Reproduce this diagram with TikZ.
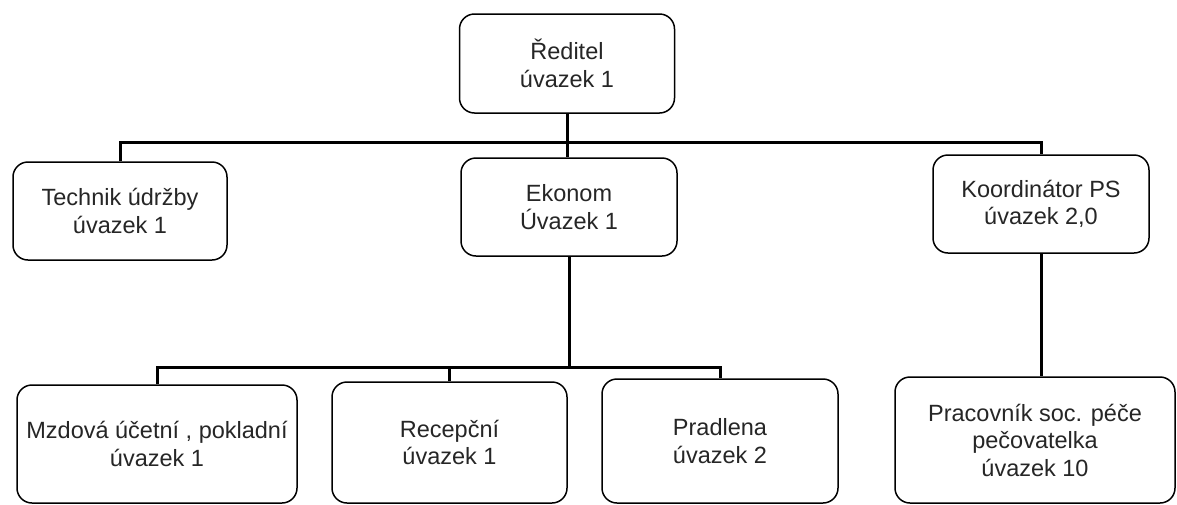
\documentclass[tikz,border=0pt]{standalone}
\usepackage{fontspec}
\setmainfont{Liberation Sans}
\begin{document}
\begin{tikzpicture}[x=1pt,y=-1pt,
  orgbox/.style={draw=black, line width=1.5pt, rounded corners=15pt, fill=white,
    align=center, inner sep=0pt, font=\fontsize{23.5}{27.5}\selectfont, text=black!85},
  link/.style={draw=black, line width=3pt}]
\useasboundingbox (0,0) rectangle (1177,504);
\fill[white] (0,0) rectangle (1177,504);
% boxes
\node[orgbox, minimum width=215pt, minimum height=99pt] (dir) at (567,63.5) {Ředitel\\úvazek 1};
\node[orgbox, minimum width=214pt, minimum height=98pt] (tech) at (120,211) {Technik údržby\\úvazek 1};
\node[orgbox, minimum width=216pt, minimum height=98pt] (ekon) at (569,207) {Ekonom\\Úvazek 1};
\node[orgbox, minimum width=216pt, minimum height=98pt] (koord) at (1041,204) {Koordinátor PS\\úvazek 2,0};
\node[orgbox, minimum width=280pt, minimum height=118pt] (mzd) at (157,444) {Mzdová účetní , pokladní\\úvazek 1};
\node[orgbox, minimum width=235pt, minimum height=121pt] (rec) at (449.5,442.5) {Recepční\\úvazek 1};
\node[orgbox, minimum width=236pt, minimum height=124pt] (pradl) at (720,441) {Pradlena\\úvazek 2};
\node[orgbox, minimum width=280pt, minimum height=126pt] (prac) at (1035,440) {Pracovník soc. péče\\pečovatelka\\úvazek 10};
% connectors
\coordinate (bartop) at (568,142);
\coordinate (barbot) at (569,367);
\draw[link] (dir.south) -- (dir.south |- ekon.north);
\draw[link, line join=miter] (tech.north) |- (bartop) -| (koord.north);
\draw[link] (ekon.south) -- (barbot);
\draw[link, line join=miter] (mzd.north) |- (barbot) -| (pradl.north);
\draw[link] (rec.north) -- (rec.north |- barbot);
\draw[link] (koord.south) -- (koord.south |- prac.north);
\end{tikzpicture}
\end{document}
